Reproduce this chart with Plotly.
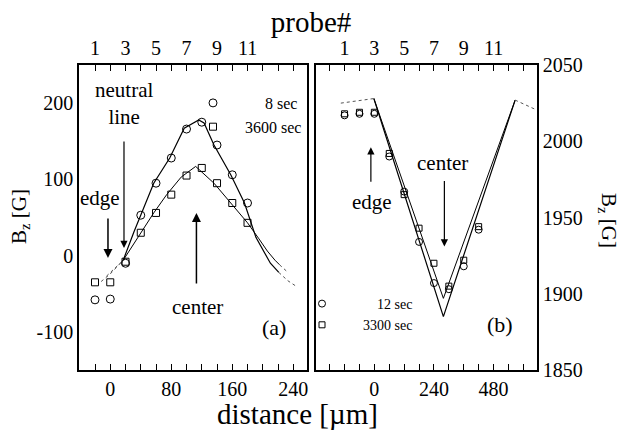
import plotly.graph_objects as go

# ---------------- data ----------------
# panel (a): distance in micrometres, Bz in gauss
a_dist = [-20, 0, 20, 40, 60, 80, 100, 120, 140, 160, 180]
a_8sec = [-58, -57, -10, 53, 95, 128, 166, 175, 145, 106, 69]
a_3600sec = [-35, -35, -8, 30, 56, 80, 105, 115, 95, 69, 43]

a_fit8_d = [17, 31, 57, 78, 97, 116, 123, 136, 158, 176, 191, 200, 210, 221]
a_fit8_v = [-6, 31, 95, 128, 167, 178, 174, 145, 106, 69, 24, 8, -10, -22]
a_fit8_tail_l_d = [-12, 0, 17]
a_fit8_tail_l_v = [-34, -24, -6]
a_fit8_tail_r_d = [221, 233, 245]
a_fit8_tail_r_v = [-22, -33, -41]

a_fit3600_d = [17, 40, 57, 74, 93, 112, 136, 158, 180, 195, 206, 216, 222]
a_fit3600_v = [-6, 30, 56, 80, 103, 117, 95, 69, 43, 22, 6, -6, -12]
a_fit3600_tail_l_d = [-5, 17]
a_fit3600_tail_l_v = [-27, -6]
a_fit3600_tail_r_d = [222, 233]
a_fit3600_tail_r_v = [-12, -22]

# panel (b)
b_dist = [-120, -60, 0, 60, 120, 180, 240, 300, 360, 420]
b_12sec = [2017, 2018, 2018, 1990, 1967, 1934, 1907, 1903, 1918, 1942]
b_3300sec = [2018, 2019, 2019, 1992, 1965, 1943, 1920, 1905, 1922, 1944]

b_fit_outer_d = [-2, 278, 567]
b_fit_outer_v = [2028, 1885, 2027]
b_fit_inner_d = [-2, 278, 567]
b_fit_inner_v = [2028, 1897, 2027]
b_tail_l_d = [-135, -2]
b_tail_l_v = [2025, 2028]
b_tail_r_d = [567, 647]
b_tail_r_v = [2027, 2021]

a_xticks = [0, 80, 160, 240]
b_xticks = [0, 240, 480]
a_yticks = [-100, 0, 100, 200]
a_yticktext = ["-100", "0", "100", "200"]
b_yticks = [1850, 1900, 1950, 2000, 2050]
probe_ticks = [1, 3, 5, 7, 9, 11]

# probe number <-> distance spacing (µm per probe) and offset for each panel
a_probe_step, a_probe_ref = 20, 2
b_probe_step, b_probe_ref = 60, 3

# ---------------- figure ----------------
SERIF = "Liberation Serif, Times New Roman, serif"
W, H = 620, 440
L, R, T, B = 79, 83, 65, 70
PW, PH = W - L - R, H - T - B


def px(x):
    return (x - L) / PW


def py(y):
    return (H - B - y) / PH


fig = go.Figure()
solid = dict(color="black", width=1.2)
dotted = dict(color="#555", width=1, dash="dot")

# panel a fit lines
fig.add_trace(go.Scatter(x=a_fit8_d, y=a_fit8_v, mode="lines", line=solid, showlegend=False, xaxis="x", yaxis="y"))
fig.add_trace(go.Scatter(x=a_fit3600_d, y=a_fit3600_v, mode="lines", line=dict(color="black", width=1), showlegend=False, xaxis="x", yaxis="y"))
for xd, yv in [(a_fit8_tail_l_d, a_fit8_tail_l_v), (a_fit8_tail_r_d, a_fit8_tail_r_v),
               (a_fit3600_tail_l_d, a_fit3600_tail_l_v), (a_fit3600_tail_r_d, a_fit3600_tail_r_v)]:
    fig.add_trace(go.Scatter(x=xd, y=yv, mode="lines", line=dotted, showlegend=False, xaxis="x", yaxis="y"))

# panel a markers
fig.add_trace(go.Scatter(x=a_dist, y=a_8sec, mode="markers", name="\u00a0" * 8 + "8 sec",
                         marker=dict(symbol="circle-open", size=8, color="black", line=dict(width=1)),
                         xaxis="x", yaxis="y", legend="legend"))
fig.add_trace(go.Scatter(x=a_dist, y=a_3600sec, mode="markers", name="\u00a0" * 3 + "3600 sec",
                         marker=dict(symbol="square-open", size=7, color="black", line=dict(width=1)),
                         xaxis="x", yaxis="y", legend="legend"))
# probe-number axis (top) carries the same points, invisibly
fig.add_trace(go.Scatter(x=[d / a_probe_step + a_probe_ref for d in a_dist], y=a_8sec, mode="markers",
                         marker=dict(opacity=0), hoverinfo="skip", showlegend=False, xaxis="x3", yaxis="y"))

# panel b fit lines
fig.add_trace(go.Scatter(x=b_fit_outer_d, y=b_fit_outer_v, mode="lines", line=solid, showlegend=False, xaxis="x2", yaxis="y2"))
fig.add_trace(go.Scatter(x=b_fit_inner_d, y=b_fit_inner_v, mode="lines", line=dict(color="black", width=1), showlegend=False, xaxis="x2", yaxis="y2"))
for xd, yv in [(b_tail_l_d, b_tail_l_v), (b_tail_r_d, b_tail_r_v)]:
    fig.add_trace(go.Scatter(x=xd, y=yv, mode="lines", line=dotted, showlegend=False, xaxis="x2", yaxis="y2"))

fig.add_trace(go.Scatter(x=b_dist, y=b_12sec, mode="markers", name="\u00a0" * 10 + "12 sec",
                         marker=dict(symbol="circle-open", size=7, color="black", line=dict(width=1)),
                         xaxis="x2", yaxis="y2", legend="legend2"))
fig.add_trace(go.Scatter(x=b_dist, y=b_3300sec, mode="markers", name="\u00a0" * 6 + "3300 sec",
                         marker=dict(symbol="square-open", size=6, color="black", line=dict(width=1)),
                         xaxis="x2", yaxis="y2", legend="legend2"))
fig.add_trace(go.Scatter(x=[d / b_probe_step + b_probe_ref for d in b_dist], y=b_12sec, mode="markers",
                         marker=dict(opacity=0), hoverinfo="skip", showlegend=False, xaxis="x4", yaxis="y2"))

tickfont = dict(family=SERIF, size=20, color="black")
dom_a = [0, (307 - L) / PW]
dom_b = [(316 - L) / PW, 1]
a_range = [-41, 258]
b_range = [-235, 655]

common_x = dict(showline=True, linecolor="black", linewidth=1.5, ticks="inside", ticklen=6,
                tickcolor="black", tickwidth=1, showgrid=False, zeroline=False, tickfont=tickfont)

fig.update_layout(
    width=W, height=H, margin=dict(l=L, r=R, t=T, b=B),
    paper_bgcolor="white", plot_bgcolor="white",
    font=dict(family=SERIF, color="black"),
    title=dict(text="probe#", x=311 / W, y=1 - 22 / H, xanchor="center", yanchor="middle",
               font=dict(family=SERIF, size=29, color="black")),
    xaxis=dict(domain=dom_a, range=a_range, anchor="y", tickvals=a_xticks,
               minor=dict(dtick=20, tick0=0, ticks="inside", ticklen=6, tickcolor="black"), **common_x),
    xaxis3=dict(overlaying="x", side="top", anchor="y",
                range=[r / a_probe_step + a_probe_ref for r in a_range], tickvals=probe_ticks,
                minor=dict(dtick=1, tick0=0, ticks="inside", ticklen=6, tickcolor="black"), **common_x),
    xaxis2=dict(domain=dom_b, range=b_range, anchor="y2", tickvals=b_xticks,
                minor=dict(dtick=60, tick0=0, ticks="inside", ticklen=6, tickcolor="black"), **common_x),
    xaxis4=dict(overlaying="x2", side="top", anchor="y2",
                range=[r / b_probe_step + b_probe_ref for r in b_range], tickvals=probe_ticks,
                minor=dict(dtick=1, tick0=0, ticks="inside", ticklen=6, tickcolor="black"), **common_x),
    yaxis=dict(domain=[0, 1], range=[-150, 250], anchor="x", tickvals=a_yticks, ticktext=a_yticktext,
               showline=True, mirror=True, linecolor="black", linewidth=1.5, ticks="",
               showgrid=False, zeroline=False, tickfont=tickfont),
    yaxis2=dict(domain=[0, 1], range=[1850, 2050], anchor="x2", side="right", tickvals=b_yticks,
                showline=True, mirror=True, linecolor="black", linewidth=1.5, ticks="",
                showgrid=False, zeroline=False, tickfont=tickfont),
    legend=dict(x=px(193), y=py(86), xanchor="left", yanchor="top", bgcolor="rgba(0,0,0,0)",
                font=dict(family=SERIF, size=16, color="black"), tracegroupgap=0, itemwidth=30),
    legend2=dict(x=px(302), y=py(288), xanchor="left", yanchor="top", bgcolor="rgba(0,0,0,0)",
                 font=dict(family=SERIF, size=14, color="black"), tracegroupgap=0, itemwidth=30),
)

ann_font = dict(family=SERIF, size=21, color="black")
annotations = [
    # panel a texts
    dict(x=18, y=200, xref="x", yref="y", text="neutral<br>line", showarrow=False, font=ann_font),
    dict(x=-13, y=76, xref="x", yref="y", text="edge", showarrow=False, font=ann_font),
    dict(x=114, y=-67, xref="x", yref="y", text="center", showarrow=False, font=ann_font),
    dict(x=215, y=-94, xref="x", yref="y", text="(a)", showarrow=False, font=dict(family=SERIF, size=22, color="black")),
    # panel a arrows
    dict(x=18, y=10, xref="x", yref="y", text="", showarrow=True, ax=0, ay=-108,
         arrowhead=2, arrowsize=1.2, arrowwidth=1.2, arrowcolor="black"),
    dict(x=-3, y=-3, xref="x", yref="y", text="", showarrow=True, ax=0, ay=-41,
         arrowhead=2, arrowsize=1.2, arrowwidth=1.5, arrowcolor="black"),
    dict(x=113, y=56, xref="x", yref="y", text="", showarrow=True, ax=0, ay=72,
         arrowhead=2, arrowsize=1.2, arrowwidth=1.5, arrowcolor="black"),
    # panel b texts
    dict(x=274, y=1986, xref="x2", yref="y2", text="center", showarrow=False, font=ann_font),
    dict(x=-10, y=1960, xref="x2", yref="y2", text="edge", showarrow=False, font=ann_font),
    dict(x=507, y=1880, xref="x2", yref="y2", text="(b)", showarrow=False, font=dict(family=SERIF, size=22, color="black")),
    # panel b arrows
    dict(x=282, y=1931, xref="x2", yref="y2", text="", showarrow=True, ax=0, ay=-67,
         arrowhead=2, arrowsize=1.2, arrowwidth=1.2, arrowcolor="black"),
    dict(x=-14, y=1996, xref="x2", yref="y2", text="", showarrow=True, ax=0, ay=36,
         arrowhead=2, arrowsize=1.2, arrowwidth=1.2, arrowcolor="black"),
    # axis titles
    dict(x=px(297), y=py(414), xref="paper", yref="paper", xanchor="center", yanchor="middle",
         text="distance [\u00b5m]", showarrow=False, font=dict(family=SERIF, size=29, color="black")),
    dict(x=px(20), y=py(217), xref="paper", yref="paper", xanchor="center", yanchor="middle",
         text="B<sub>z</sub> [G]", showarrow=False, textangle=-90, font=dict(family=SERIF, size=21, color="black")),
    dict(x=px(608), y=py(220), xref="paper", yref="paper", xanchor="center", yanchor="middle",
         text="B<sub>z</sub> [G]", showarrow=False, textangle=90, font=dict(family=SERIF, size=21, color="black")),
]
fig.update_layout(annotations=annotations)

fig.write_html("out.html", config={"displayModeBar": False},
               post_script="document.body.style.margin='0px';")
